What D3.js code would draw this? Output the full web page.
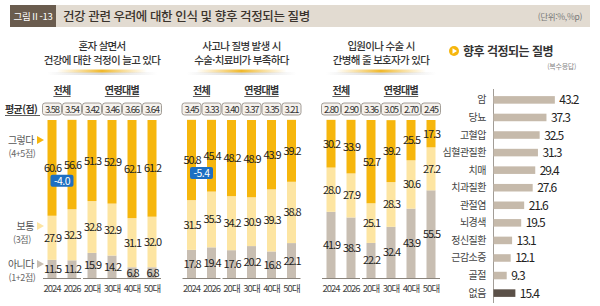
<!DOCTYPE html>
<html lang="ko">
<head>
<meta charset="utf-8">
<title>건강 관련 우려에 대한 인식 및 향후 걱정되는 질병</title>
<script src="https://cdn.jsdelivr.net/npm/d3@7"></script>
<style>
body { margin: 0; background: #fff; }
text { font-family: "Noto Sans CJK KR", "Noto Sans", sans-serif; }
.num { letter-spacing: -1.1px; }
</style>
</head>
<body>
<script>
var w = 600, h = 306;

// data
var groups = ["2024", "2026", "20대", "30대", "40대", "50대"];
var panelTitles = [["혼자 살면서", "건강에 대한 걱정이 늘고 있다"],
                   ["사고나 질병 발생 시", "수술·치료비가 부족하다"],
                   ["입원이나 수술 시", "간병해 줄 보호자가 있다"]];
var agree    = [[60.6, 56.6, 51.3, 52.9, 62.1, 61.2], [50.8, 45.4, 48.2, 48.9, 43.9, 39.2], [30.2, 33.9, 52.7, 39.2, 25.5, 17.3]];
var neutral  = [[27.9, 32.3, 32.8, 32.9, 31.1, 32.0], [31.5, 35.3, 34.2, 30.9, 39.3, 38.8], [28.0, 27.9, 25.1, 28.3, 30.6, 27.2]];
var disagree = [[11.5, 11.2, 15.9, 14.2, 6.8, 6.8], [17.8, 19.4, 17.6, 20.2, 16.8, 22.1], [41.9, 38.3, 22.2, 32.4, 43.9, 55.5]];
var averages = [["3.58", "3.54", "3.42", "3.46", "3.66", "3.64"],
                ["3.45", "3.33", "3.40", "3.37", "3.35", "3.21"],
                ["2.80", "2.90", "3.36", "3.05", "2.70", "2.45"]];
var changes = ["-4.0", "-5.4", null];
var diseases = ["암", "당뇨", "고혈압", "심혈관질환", "치매", "치과질환", "관절염", "뇌경색", "정신질환", "근감소증", "골절", "없음"];
var diseaseValues = [43.2, 37.3, 32.5, 31.3, 29.4, 27.6, 21.6, 19.5, 13.1, 12.1, 9.3, 15.4];

var keys = ["disagree", "neutral", "agree"];
var colors = {agree: "#f6b60d", neutral: "#fde5a2", disagree: "#c8beb2"};
var fmt = d3.format(".1f");

var svg = d3.select("body").append("svg")
    .attr("width", w).attr("height", h);

var defs = svg.append("defs");
var glow = defs.append("linearGradient").attr("id", "glow");
glow.append("stop").attr("offset", "0%").attr("stop-color", "#f3c24a").attr("stop-opacity", 0);
glow.append("stop").attr("offset", "50%").attr("stop-color", "#f0b82a").attr("stop-opacity", 1);
glow.append("stop").attr("offset", "100%").attr("stop-color", "#f3c24a").attr("stop-opacity", 0);
var shade = defs.append("linearGradient").attr("id", "shade");
shade.append("stop").attr("offset", "0%").attr("stop-color", "#ccc").attr("stop-opacity", 0);
shade.append("stop").attr("offset", "50%").attr("stop-color", "#ccc").attr("stop-opacity", 0.8);
shade.append("stop").attr("offset", "100%").attr("stop-color", "#ccc").attr("stop-opacity", 0);

// title band
svg.append("rect").attr("x", 10).attr("y", 5).attr("width", 580).attr("height", 22).attr("fill", "#e2dbd1");
svg.append("rect").attr("x", 10).attr("y", 5).attr("width", 46).attr("height", 22).attr("fill", "#6a5c4e");
svg.append("text").attr("x", 33).attr("y", 20).attr("text-anchor", "middle")
   .attr("fill", "#fff").attr("font-size", 9.5).attr("letter-spacing", "-0.3px").text("그림Ⅱ-13");
svg.append("text").attr("x", 63).attr("y", 21).attr("fill", "#3a332c")
   .attr("font-size", 12.5).attr("font-weight", 500).attr("letter-spacing", "-0.4px")
   .text("건강 관련 우려에 대한 인식 및 향후 걱정되는 질병");
svg.append("text").attr("x", 582).attr("y", 20).attr("text-anchor", "end")
   .attr("fill", "#777").attr("font-size", 8.5).attr("letter-spacing", "-0.3px").text("(단위:%,%p)");

// scales
var yScale = d3.scaleLinear().domain([0, 100]).range([278, 120]);
var panelScale = d3.scalePoint().domain([0, 1, 2]).range([52, 331]);
var xScale = d3.scalePoint().domain(groups).range([0, 100]);
var barW = 9;

// left labels
var leftLabels = [
  {t: "그렇다", sub: "(4+5점)", y: 140, c: colors.agree},
  {t: "보통", sub: "(3점)", y: 226, c: colors.neutral},
  {t: "아니다", sub: "(1+2점)", y: 264, c: colors.disagree}
];
leftLabels.forEach(function(d) {
  svg.append("text").attr("x", 34).attr("y", d.y + 4).attr("text-anchor", "end")
     .attr("font-size", 10).attr("fill", "#555").attr("letter-spacing", "-0.5px").text(d.t);
  svg.append("path").attr("d", "M37," + (d.y - 4) + "L44," + d.y + "L37," + (d.y + 4) + "Z").attr("fill", d.c);
  svg.append("text").attr("x", 22).attr("y", d.y + 17).attr("text-anchor", "middle")
     .attr("font-size", 9).attr("fill", "#666").attr("letter-spacing", "-0.4px").text(d.sub);
});
svg.append("text").attr("x", 5).attr("y", 113)
   .attr("font-size", 10).attr("font-weight", 700).attr("fill", "#333").attr("letter-spacing", "-0.6px").text("평균(점)");
svg.append("line").attr("x1", 5).attr("x2", 40).attr("y1", 115.5).attr("y2", 115.5).attr("stroke", "#333").attr("stroke-width", 0.8);

// panels
[0, 1, 2].forEach(function(p) {
  var x0 = panelScale(p);
  var g = svg.append("g").attr("transform", "translate(" + x0 + ",0)");
  var cx = (xScale(groups[0]) + xScale(groups[5])) / 2;

  // title
  panelTitles[p].forEach(function(line, i) {
    g.append("text").attr("x", cx).attr("y", 50 + i * 14).attr("text-anchor", "middle")
     .attr("font-size", 10.5).attr("font-weight", 500).attr("fill", "#333").attr("letter-spacing", "-0.7px").text(line);
  });
  g.append("rect").attr("x", cx - 55).attr("y", 72).attr("width", 110).attr("height", 3).attr("fill", "url(#shade)");
  g.append("rect").attr("x", cx - 45).attr("y", 69.5).attr("width", 90).attr("height", 3).attr("fill", "url(#glow)");

  // group headers
  var heads = [{t: "전체", a: 0, b: 1}, {t: "연령대별", a: 2, b: 5}];
  heads.forEach(function(hd) {
    var mx = (xScale(groups[hd.a]) + xScale(groups[hd.b])) / 2;
    var tx = g.append("text").attr("x", mx).attr("y", 94).attr("text-anchor", "middle")
      .attr("font-size", 10).attr("font-weight", 700).attr("fill", "#333").attr("letter-spacing", "-0.6px").text(hd.t);
    var tw = tx.node().getComputedTextLength();
    g.append("line").attr("x1", mx - tw / 2).attr("x2", mx + tw / 2).attr("y1", 96.5).attr("y2", 96.5)
      .attr("stroke", "#333").attr("stroke-width", 0.8);
    // baseline segments
    g.append("line").attr("x1", xScale(groups[hd.a]) - 9).attr("x2", xScale(groups[hd.b]) + 9)
      .attr("y1", yScale(0) + 0.5).attr("y2", yScale(0) + 0.5).attr("stroke", "#8a847c").attr("stroke-width", 1);
  });

  // averages
  groups.forEach(function(gr, i) {
    g.append("rect").attr("x", xScale(gr) - 9.5).attr("y", 103).attr("width", 19).attr("height", 12).attr("rx", 2.5)
      .attr("fill", "#f4f1ed").attr("stroke", "#8d877f").attr("stroke-width", 0.8);
    g.append("text").attr("class", "num").attr("x", xScale(gr)).attr("y", 112.5).attr("text-anchor", "middle")
      .attr("font-size", 9.5).attr("fill", "#333").text(averages[p][i]);
  });

  // stacked bars
  var rows = groups.map(function(gr, i) {
    return {group: gr, agree: agree[p][i], neutral: neutral[p][i], disagree: disagree[p][i]};
  });
  var series = d3.stack().keys(keys)(rows);
  series.forEach(function(s) {
    g.selectAll(null).data(s).enter().append("rect")
      .attr("x", function(d) { return xScale(d.data.group) - barW / 2; })
      .attr("y", function(d) { return yScale(d[1]); })
      .attr("width", barW)
      .attr("height", function(d) { return yScale(d[0]) - yScale(d[1]); })
      .attr("fill", colors[s.key]);
  });
  series.forEach(function(s) {
    g.selectAll(null).data(s).enter().append("text")
      .attr("class", "num")
      .attr("x", function(d) { return xScale(d.data.group) + 0.5; })
      .attr("y", function(d) { return (yScale(d[0]) + yScale(d[1])) / 2 + 4; })
      .attr("text-anchor", "middle").attr("font-size", 11).attr("fill", "#222")
      .text(function(d) { return fmt(d.data[s.key]); });
  });

  // x labels
  groups.forEach(function(gr) {
    g.append("text").attr("class", "num").attr("x", xScale(gr)).attr("y", 292).attr("text-anchor", "middle")
      .attr("font-size", 9.5).attr("fill", "#444").style("letter-spacing", "-1px").text(gr);
  });

  // change badge
  if (changes[p]) {
    var top = series[2][0];
    var by = (yScale(top[0]) + yScale(top[1])) / 2 + 7;
    var bx = (xScale(groups[0]) + xScale(groups[1])) / 2;
    g.append("rect").attr("x", bx - 11.5).attr("y", by).attr("width", 23).attr("height", 12).attr("rx", 2)
      .attr("fill", "#1d6fc2");
    g.append("text").attr("x", bx).attr("y", by + 10).attr("text-anchor", "middle")
      .attr("font-size", 10.5).attr("fill", "#fff").attr("letter-spacing", "-0.5px").text(changes[p]);
  }
});

// right chart
svg.append("circle").attr("cx", 454).attr("cy", 51).attr("r", 5).attr("fill", "#f6b60d");
svg.append("path").attr("d", "M452.5,48.3L457,51L452.5,53.7Z").attr("fill", "#fff");
svg.append("text").attr("x", 463).attr("y", 55.5).attr("font-size", 12).attr("font-weight", 700)
   .attr("fill", "#333").attr("letter-spacing", "-0.5px").text("향후 걱정되는 질병");
svg.append("text").attr("x", 576).attr("y", 68.5).attr("text-anchor", "end").attr("font-size", 7)
   .attr("fill", "#888").attr("letter-spacing", "-0.3px").text("(복수응답)");

var hx = d3.scaleLinear().domain([0, 50]).range([493, 564]);
var hy = d3.scaleBand().domain(diseases).range([91.2, 301.8]).paddingInner(0.57).paddingOuter(0.28);

svg.append("line").attr("x1", 493.5).attr("x2", 493.5).attr("y1", 89).attr("y2", 303)
   .attr("stroke", "#8a847c").attr("stroke-width", 0.8);

svg.selectAll(".hbar").data(diseases).enter().append("rect")
   .attr("x", hx(0) + 0.5)
   .attr("y", function(d) { return hy(d); })
   .attr("width", function(d, i) { return hx(diseaseValues[i]) - hx(0); })
   .attr("height", hy.bandwidth())
   .attr("fill", function(d) { return d === "없음" ? "#5b5048" : "#c6baab"; });

svg.selectAll(".hlab").data(diseases).enter().append("text")
   .attr("x", 486)
   .attr("y", function(d) { return hy(d) + hy.bandwidth() / 2 + 3.5; })
   .attr("text-anchor", "end").attr("font-size", 10).attr("fill", "#444").attr("letter-spacing", "-0.5px")
   .text(function(d) { return d; });

svg.selectAll(".hval").data(diseases).enter().append("text")
   .attr("class", "num")
   .attr("x", function(d, i) { return hx(diseaseValues[i]) + 5; })
   .attr("y", function(d) { return hy(d) + hy.bandwidth() / 2 + 4.5; })
   .attr("font-size", 12).attr("fill", "#222")
   .text(function(d, i) { return fmt(diseaseValues[i]); });
</script>
</body>
</html>
